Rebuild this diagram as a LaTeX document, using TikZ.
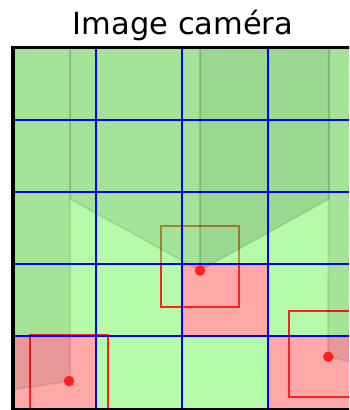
\documentclass[tikz,border=0pt]{standalone}
\usepackage{fontspec}
\setmainfont{DejaVu Sans}
\definecolor{cellg}{RGB}{109,249,85}
\definecolor{cellp}{RGB}{255,82,82}
\definecolor{redl}{RGB}{255,32,32}
\definecolor{gridb}{RGB}{10,0,245}
\tikzset{
  cellgreen/.style={fill=cellg, fill opacity=0.5},
  cellpink/.style={fill=cellp, fill opacity=0.5},
  sq/.style={draw=redl, line width=2pt},
  shade/.style={fill=black, fill opacity=0.09, draw=black, draw opacity=0.08, line width=2pt},
  gridline/.style={draw=gridb, line width=2pt},
  camdot/.style={circle, fill=redl, minimum size=10.5pt, inner sep=0pt},
}
\begin{document}
\begin{tikzpicture}[x=1pt,y=-1pt]
\useasboundingbox (0,0) rectangle (349,410);
\fill[white] (0,0) rectangle (349,410);
\clip (0,0) rectangle (349,410);
\begin{scope}
  \clip (13,47.5) rectangle (349,409.5);
  % middle rectangle (upper part ends under the cell tint)
  \draw[sq] (160.5,225.5) rectangle (238.5,306.5);
  % cells
  \foreach \r in {47.5,120,192} {
    \fill[cellgreen] (13,\r) rectangle (360,\r+72);
  }
  \fill[cellgreen] (13,264) rectangle (182,336);
  \fill[cellpink] (182,264) rectangle (268,336);
  \fill[cellgreen] (268,264) rectangle (360,336);
  \fill[cellpink] (13,336) rectangle (96,412);
  \fill[cellgreen] (96,336) rectangle (268,412);
  \fill[cellpink] (268,336) rectangle (360,412);
  % rectangles drawn above the lower cells
  \begin{scope}
    \clip (0,264) rectangle (349,410);
    \draw[sq] (160.5,225.5) rectangle (238.5,306.5);
  \end{scope}
  \draw[sq] (30,334.5) rectangle (108,420);
  \draw[sq] (288.5,311) rectangle (368,397);
  % projected volumes
  \draw[shade] (0,40) -- (70,40) -- (70,381) -- (0,391.5) -- cycle;
  \draw[shade] (70,40) -- (200,40) -- (200,270.5) -- (70,199) -- cycle;
  \draw[shade] (200,40) -- (329,40) -- (329,199) -- (200,270.5) -- cycle;
  \fill[black, fill opacity=0.05] (200,40) -- (329,40) -- (329,199) -- (200,270.5) -- cycle;
  \draw[shade] (329,40) -- (360,40) -- (360,364) -- (328,356.5) -- cycle;
  % grid
  \foreach \x in {96,182,268} { \draw[gridline] (\x,40) -- (\x,415); }
  \foreach \y in {120,192,264,336} { \draw[gridline] (0,\y) -- (360,\y); }
\end{scope}
% cameras
\node[camdot] (camL) at (69,381) {};
\node[camdot] (camM) at (200,270.5) {};
\node[camdot] (camR) at (328.3,356.7) {};
% frame
\draw[line width=3.5pt] (365,47.5) -- (13,47.5) -- (13,409.5) -- (365,409.5);
% title
\node[anchor=base, inner sep=0pt, font=\fontsize{30.5}{36}\selectfont] (title) at (183,34.7) {Image caméra};
\end{tikzpicture}
\end{document}
